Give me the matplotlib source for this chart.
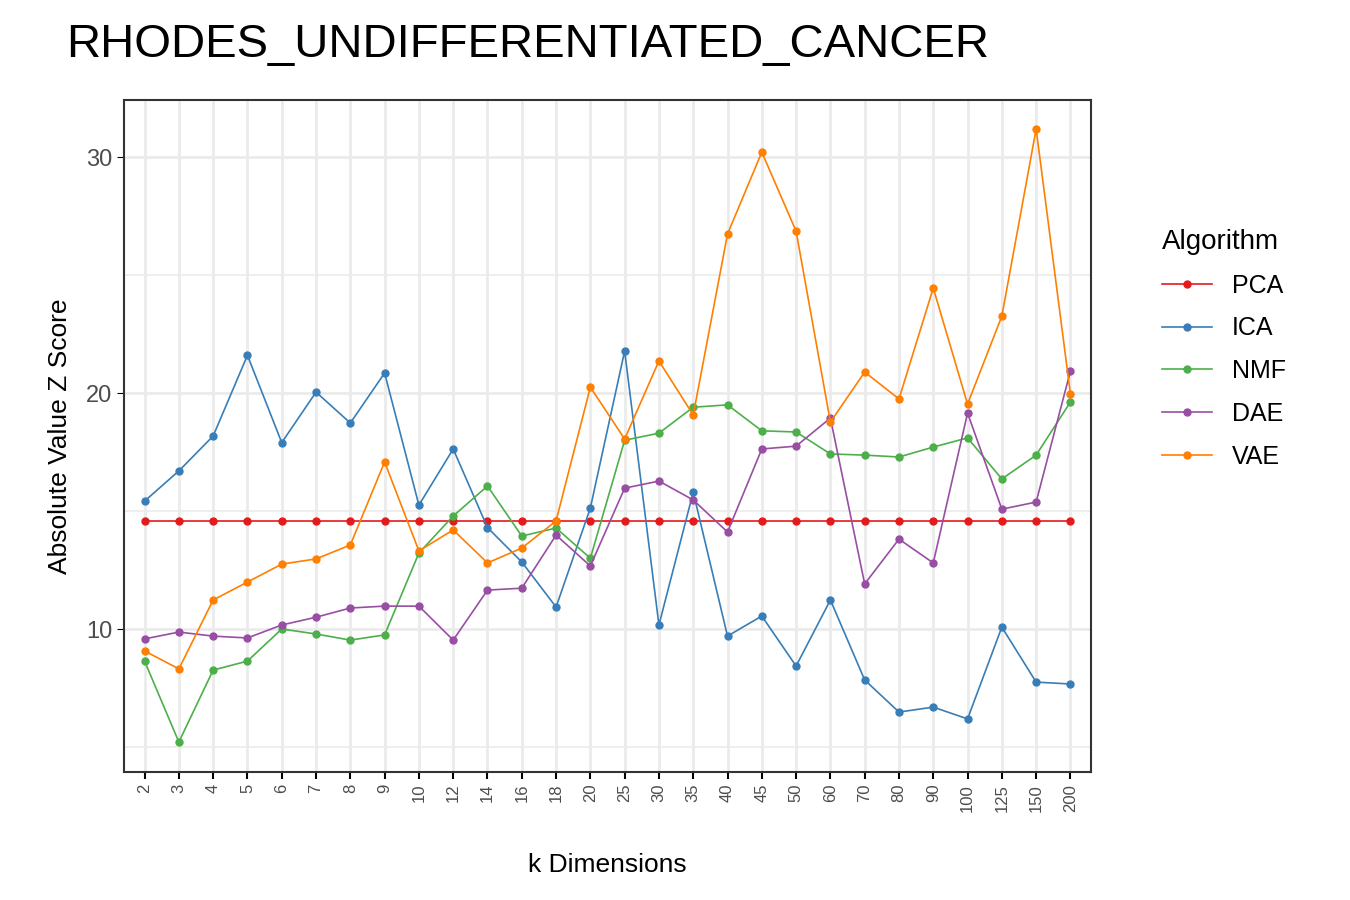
import matplotlib
matplotlib.use("Agg")
import matplotlib.pyplot as plt
plt.rcParams['font.family'] = ['Liberation Sans', 'DejaVu Sans']

k_dims = ["2","3","4","5","6","7","8","9","10","12","14","16","18","20","25","30","35","40","45","50","60","70","80","90","100","125","150","200"]
pca = [14.58]*28
ica = [15.42,16.7,18.18,21.6,17.9,20.04,18.73,20.85,15.25,17.63,14.3,12.84,10.93,15.13,21.78,10.17,15.8,9.7,10.55,8.43,11.23,7.84,6.48,6.69,6.19,10.08,7.75,7.67]
nmf = [8.64,5.21,8.26,8.64,10.0,9.79,9.53,9.75,13.22,14.79,16.06,13.94,14.28,13.0,18.0,18.3,19.4,19.5,18.4,18.35,17.42,17.37,17.29,17.71,18.1,16.36,17.37,19.62]
dae = [9.58,9.87,9.7,9.62,10.17,10.5,10.89,10.97,10.97,9.53,11.65,11.73,13.98,12.67,15.97,16.27,15.47,14.11,17.63,17.75,18.94,11.91,13.81,12.8,19.15,15.08,15.38,20.93]
vae = [9.07,8.31,11.23,11.99,12.75,12.97,13.56,17.08,13.31,14.2,12.8,13.43,14.58,20.25,18.05,21.36,19.07,26.74,30.21,26.86,18.77,20.89,19.75,24.45,19.53,23.26,31.19,19.96]

series = [("PCA",pca,"#E41A1C"),("ICA",ica,"#377EB8"),("NMF",nmf,"#4DAF4A"),("DAE",dae,"#984EA3"),("VAE",vae,"#FF7F00")]

fig = plt.figure(figsize=(13.5,9),dpi=100)
ax = fig.add_axes([124/1350, 1-772/900, (1091-124)/1350, (772-100)/900])
x = list(range(len(k_dims)))
for name, vals, c in series:
    ax.plot(x, vals, color=c, lw=1.2, marker="o", ms=5, label=name)
ax.set_xlim(-0.6, len(k_dims)-0.4)
ax.set_ylim(3.94, 32.42)
ax.set_xticks(x)
ax.set_xticklabels(k_dims, rotation=90, fontsize=12, color="#4d4d4d")
ax.set_yticks([10,20,30])
ax.set_yticks([5,15,25], minor=True)
ax.tick_params(axis="y", labelsize=17, labelcolor="#4d4d4d", length=5)
ax.tick_params(axis="y", which="minor", length=0)
ax.tick_params(axis="x", length=5, width=1.5)
ax.grid(True, which="major", color="#ebebeb", lw=2)
ax.grid(True, which="minor", axis="y", color="#ebebeb", lw=1.2)
ax.set_axisbelow(True)
for s in ax.spines.values():
    s.set_color("#333333"); s.set_linewidth(1.5)
ax.set_xlabel("k Dimensions", fontsize=19, labelpad=30)
ax.set_ylabel("Absolute Value Z Score", fontsize=19, labelpad=10)
fig.text(66/1350, 1-45/900, "RHODES_UNDIFFERENTIATED_CANCER", fontsize=34, va="center")
leg = ax.legend(title="Algorithm", loc="center left", bbox_to_anchor=(1.05, 0.63), frameon=False,
                fontsize=18, title_fontsize=20, handlelength=2, labelspacing=0.75)
leg._legend_box.align = "left"
fig.savefig("out.png", dpi=100)
